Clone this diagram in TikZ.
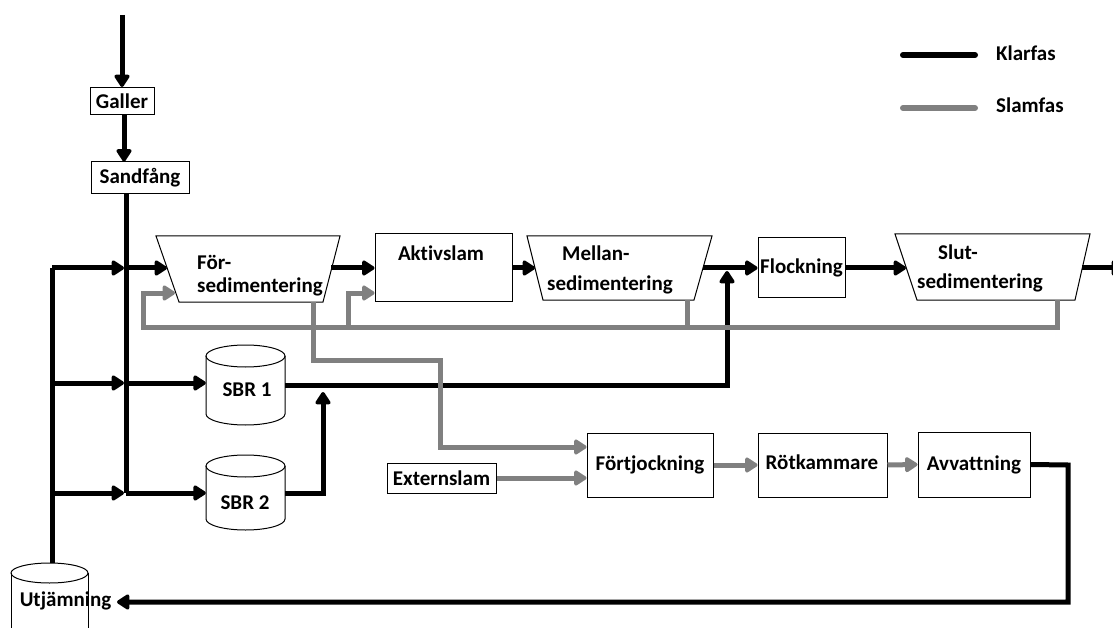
\documentclass[tikz,border=0pt]{standalone}
\usepackage{fontspec}
\setmainfont{Carlito}[Ligatures={NoCommon}]
\usetikzlibrary{arrows.meta,calc}
\definecolor{slam}{RGB}{128,128,128}
\tikzset{
  lbl/.style={font=\fontsize{21}{24}\selectfont\bfseries, inner sep=0pt},
  box/.style={draw, line width=1pt, lbl},
  outl/.style={draw, line width=1pt},
  body/.style={inner sep=0pt, draw=none},
  blk/.style={line width=5pt, black},
  gry/.style={line width=5pt, slam},
  arr/.style={-{Triangle[length=14pt,width=17pt,round]}},
}
\begin{document}
\begin{tikzpicture}[x=1pt,y=-1pt]
\useasboundingbox (0,0) rectangle (1113,628);
\clip (0,0) rectangle (1113,628);

% ---- boxes ----
\node[box, minimum width=64, minimum height=27] (galler) at (122,101) {Galler};
\node[box, minimum width=98, minimum height=32] (sand) at (140,178) {Sandfång};
\node[box, minimum width=137, minimum height=67] (aktiv) at (443.5,267.5) {};
\node[lbl] (aktivT) at (441,253) {Aktivslam};
\node[box, minimum width=87, minimum height=59] (flock) at (801.5,267.5) {Flockning};
\node[box, minimum width=126, minimum height=64] (fort) at (650,465) {Förtjockning};
\node[box, minimum width=129, minimum height=64] (rot) at (822.5,465) {};
\node[lbl] (rotT) at (822,462) {Rötkammare};
\node[box, minimum width=112, minimum height=65] (avv) at (974,464.5) {Avvattning};
\node[box, minimum width=109, minimum height=30] (ext) at (441.5,478) {Externslam};

% ---- trapezoids ----
\draw[outl] (156,236) -- (340,236) -- (323,302) -- (179,302) -- cycle;
\node[lbl, anchor=west] (forsA) at (197,262) {För-};
\node[lbl, anchor=west] (forsB) at (197,287) {sedimentering};
\coordinate (forsL1) at (167,268);
\coordinate (forsL2) at (175,293);
\coordinate (forsR) at (331,268);
\coordinate (forsBot) at (313,302);

\draw[outl] (527,236) -- (712,236) -- (694,300) -- (543,300) -- cycle;
\node[lbl, anchor=west] (mellA) at (562,253) {Mellan-};
\node[lbl, anchor=west] (mellB) at (547,285) {sedimentering};
\coordinate (mellL) at (535,268);
\coordinate (mellR) at (703,268);
\coordinate (mellBot) at (687,300);

\draw[outl] (895,234) -- (1090,234) -- (1075,300) -- (917,300) -- cycle;
\node[lbl, anchor=west] (slutA) at (938,252) {Slut-};
\node[lbl, anchor=west] (slutB) at (917,283) {sedimentering};
\coordinate (slutL) at (906,268);
\coordinate (slutR) at (1082,268);
\coordinate (slutBot) at (1057,300);

% ---- cylinders ----
\node[body, minimum width=79, minimum height=80] (sbr1) at (245.5,385) {};
\draw[outl] (206,356) -- (206,414) arc[start angle=180, end angle=0, x radius=39.5, y radius=11] -- (285,356);
\draw[outl] (245.5,356) ellipse[x radius=39.5, y radius=11];
\node[lbl] (sbr1T) at (247,390) {SBR 1};

\node[body, minimum width=79, minimum height=75] (sbr2) at (245.5,492) {};
\draw[outl] (206,466) -- (206,519) arc[start angle=180, end angle=0, x radius=39.5, y radius=11] -- (285,466);
\draw[outl] (245.5,466) ellipse[x radius=39.5, y radius=11];
\node[lbl] (sbr2T) at (245,503) {SBR 2};

\draw[outl] (11,573) -- (11,640) (88,640) -- (88,573);
\draw[outl] (49.5,573) ellipse[x radius=38.5, y radius=10];
\node[lbl] (utjT) at (65.5,601) {Utjämning};
\coordinate (utjtop) at (52,563);
\coordinate (utjin) at (117,602);

% ---- black connectors ----
\coordinate (in) at (122,15);
\draw[blk,arr] (in) -- (galler.north);
\draw[blk,arr] ([xshift=2pt]galler.south) -- ([xshift=2pt]galler.south |- sand.north);

\coordinate (lA) at (52,268); \coordinate (jA) at (126,268);
\coordinate (lB) at (52,383); \coordinate (jB) at (126,383);
\coordinate (lC) at (52,493); \coordinate (jC) at (126,493);
\draw[blk] (sand.south -| jA) -- (jC);
\draw[blk] (utjtop) -- (lA);
\draw[blk,arr,shorten >=2pt] (lA) -- (jA);
\draw[blk,arr,shorten >=2pt] (lB) -- (jB);
\draw[blk,arr,shorten >=2pt] (lC) -- (jC);
\draw[blk,arr] (jA) -- (forsL1);
\draw[blk,arr] (jB) -- (jB -| sbr1.west);
\draw[blk,arr] (jC) -- (jC -| sbr2.west);

\draw[blk,arr] (forsR) -- (forsR -| aktiv.west);
\draw[blk,arr] (aktiv.east |- mellL) -- (mellL);
\draw[blk,arr] (mellR) -- (mellR -| flock.west);
\draw[blk,arr] (flock.east |- slutL) -- (slutL);
\coordinate (outR) at (1124,268);
\draw[blk,arr] (slutR) -- (outR);

\coordinate (s1a) at (285,385); \coordinate (s1b) at (727,385); \coordinate (s1c) at (727,271);
\draw[blk,arr] (s1a) -- (s1b) -- (s1c);
\coordinate (s2a) at (285,493); \coordinate (s2b) at (323,493); \coordinate (s2c) at (323,392);
\draw[blk,arr] (s2a) -- (s2b) -- (s2c);

\coordinate (r1) at (1068,465); \coordinate (r2) at (1068,602);
\draw[blk,arr] (avv.east) -- (r1) -- (r2) -- (utjin);

% ---- grey connectors ----
\coordinate (g1) at (1057,327); \coordinate (g2) at (143,327); \coordinate (g3) at (143,293);
\draw[gry,arr] (slutBot) -- (g1) -- (g2) -- (g3) -- (forsL2);
\coordinate (g4) at (687,327);
\draw[gry] (mellBot) -- (g4);
\coordinate (g5) at (348,327); \coordinate (g6) at (348,293);
\draw[gry,arr] (g5) -- (g6) -- (g6 -| aktiv.west);
\coordinate (g7) at (313,360); \coordinate (g8) at (440,360); \coordinate (g9) at (440,447);
\draw[gry,arr] (forsBot) -- (g7) -- (g8) -- (g9) -- (g9 -| fort.west);
\draw[gry,arr] (ext.east) -- (ext.east -| fort.west);
\draw[gry,arr] (fort.east) -- (rot.west);
\draw[gry,arr] (rot.east) -- (avv.west);

% ---- legend ----
\coordinate (k1) at (903,55); \coordinate (k2) at (975,55);
\draw[blk, line width=6pt, line cap=round] (k1) -- (k2);
\node[lbl, anchor=west] (klar) at (996,53) {Klarfas};
\coordinate (m1) at (903,108); \coordinate (m2) at (975,108);
\draw[gry, line width=6pt, line cap=round] (m1) -- (m2);
\node[lbl, anchor=west] (slamf) at (996,105) {Slamfas};
\end{tikzpicture}
\end{document}
